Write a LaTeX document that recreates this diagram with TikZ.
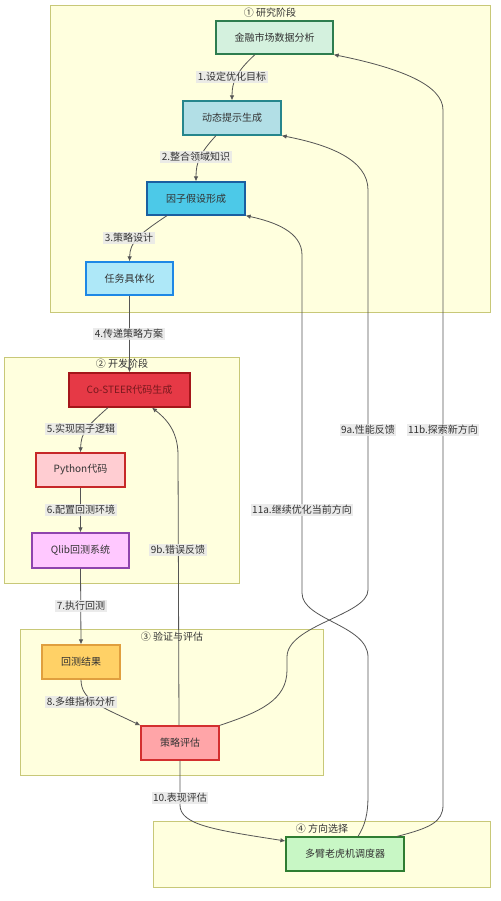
\documentclass[tikz,border=0pt]{standalone}
\usepackage{fontspec}
\setmainfont{Noto Sans CJK SC}
\usetikzlibrary{arrows.meta}
\definecolor{clfill}{HTML}{FFFFDE}
\definecolor{cldraw}{HTML}{C8C878}
\definecolor{edgec}{HTML}{555555}
\definecolor{txt}{HTML}{333333}
\definecolor{lblbg}{HTML}{E8E8E8}
\tikzset{
  cluster/.style={fill=clfill, draw=cldraw, line width=0.8pt},
  ctitle/.style={font=\fontsize{10}{12}\selectfont, text=txt, inner sep=1pt},
  box/.style={draw, line width=1.2pt, inner sep=0pt, text=txt, font=\fontsize{10}{12}\selectfont},
  edge/.style={draw=edgec, line width=0.8pt, -{Latex[length=5pt,width=4.5pt]}},
  elabel/.style={fill=lblbg, fill opacity=0.85, text opacity=1, text=txt, inner sep=1.5pt, font=\fontsize{10}{12}\selectfont}
}
\begin{document}
\begin{tikzpicture}[x=1pt,y=-1pt]
\useasboundingbox (0,0) rectangle (500,901);
\fill[white] (0,0) rectangle (500,901);
% clusters
\draw[cluster] (50,5) rectangle (490,312);
\draw[cluster] (4,357) rectangle (239,583);
\draw[cluster] (20,629) rectangle (323,775);
\draw[cluster] (153,821) rectangle (490,887);
\node[ctitle] (t1) at (270,13) {① 研究阶段};
\node[ctitle] (t2) at (122,364) {② 开发阶段};
\node[ctitle] (t3) at (172,637) {③ 验证与评估};
\node[ctitle] (t4) at (322,829) {④ 方向选择};
% nodes
\node[box, fill={rgb,255:red,212;green,241;blue,222}, draw={rgb,255:red,46;green,125;blue,79}, minimum width=117pt, minimum height=33pt] (n1) at (274.5,37.5) {金融市场数据分析};
\node[box, fill={rgb,255:red,178;green,223;blue,230}, draw={rgb,255:red,38;green,134;blue,140}, minimum width=98pt, minimum height=34pt] (n2) at (232,118) {动态提示生成};
\node[box, fill={rgb,255:red,76;green,201;blue,232}, draw={rgb,255:red,26;green,95;blue,160}, minimum width=98pt, minimum height=33pt] (n3) at (196,198.5) {因子假设形成};
\node[box, fill={rgb,255:red,174;green,232;blue,248}, draw={rgb,255:red,30;green,136;blue,229}, minimum width=87pt, minimum height=33pt] (n4) at (129.5,278.5) {任务具体化};
\node[box, fill={rgb,255:red,230;green,57;blue,70}, draw={rgb,255:red,164;green,22;blue,26}, text={rgb,255:red,120;green,25;blue,30}, minimum width=121pt, minimum height=34pt] (n5) at (129.5,390) {Co-STEER代码生成};
\node[box, fill={rgb,255:red,255;green,205;blue,210}, draw={rgb,255:red,198;green,40;blue,40}, minimum width=89pt, minimum height=34pt] (n6) at (80.5,470) {Python代码};
\node[box, fill={rgb,255:red,255;green,200;blue,255}, draw={rgb,255:red,142;green,68;blue,173}, minimum width=97pt, minimum height=35pt] (n7) at (80.5,550.5) {Qlib回测系统};
\node[box, fill={rgb,255:red,255;green,209;blue,102}, draw={rgb,255:red,224;green,159;blue,62}, minimum width=78pt, minimum height=34pt] (n8) at (81,662) {回测结果};
\node[box, fill={rgb,255:red,255;green,165;blue,168}, draw={rgb,255:red,211;green,47;blue,47}, minimum width=78pt, minimum height=34pt] (n9) at (180,743) {策略评估};
\node[box, fill={rgb,255:red,200;green,247;blue,197}, draw={rgb,255:red,46;green,125;blue,50}, minimum width=118pt, minimum height=34pt] (n10) at (345,854) {多臂老虎机调度器};
% edges
\draw[edge] ([xshift=-19.5pt]n1.south) .. controls (236,72) and (232,82) .. (n2.north);
\draw[edge] ([xshift=-16pt]n2.south) .. controls (200,153) and (196,162) .. (n3.north);
\draw[edge] ([xshift=-29pt]n3.south) .. controls (138,235) and (130,242) .. (n4.north);
\draw[edge] (n4.south) -- (n5.north);
\draw[edge] ([xshift=-21.5pt]n5.south) .. controls (86,427) and (81,433) .. (n6.north);
\draw[edge] (n6.south) -- (n7.north);
\draw[edge] (n7.south) -- (n8.north);
\draw[edge] (n8.south) .. controls (81,700) and (100,706) .. (n9.north west);
\draw[edge] ([xshift=-1pt]n9.north) -- (178,455) .. controls (178,430) and (165,418) .. ([xshift=22.5pt]n5.south);
\draw[edge] (n9.north east) .. controls (260,712) and (287,700) .. (287,670) -- (287,657) .. controls (287,625) and (368,615) .. (368,590) -- (368,190) .. controls (368,160) and (330,145) .. (n2.south east);
\draw[edge] ([xshift=13pt]n10.north) .. controls (365,825) and (368,815) .. (368,795) -- (368,657) .. controls (368,625) and (302,620) .. (302,593) -- (302,255) .. controls (302,232) and (275,222) .. (n3.south east);
\draw[edge] ([xshift=52pt]n10.north) .. controls (430,828) and (443,822) .. (443,805) -- (443,110) .. controls (443,85) and (400,68) .. (n1.south east);
\draw[edge] (n9.south) -- (180,805) .. controls (180,825) and (215,830) .. ([yshift=13pt]n10.west);
% edge labels
\node[elabel] (l1) at (232,77) {1.设定优化目标};
\node[elabel] (l2) at (196,157) {2.整合领域知识};
\node[elabel] (l3) at (129,238) {3.策略设计};
\node[elabel] (l4) at (129,334) {4.传递策略方案};
\node[elabel] (l5) at (81,429) {5.实现因子逻辑};
\node[elabel] (l6) at (81,510) {6.配置回测环境};
\node[elabel] (l7) at (81,606) {7.执行回测};
\node[elabel] (l8) at (81,702) {8.多维指标分析};
\node[elabel] (l9b) at (178,550) {9b.错误反馈};
\node[elabel] (l9a) at (368,430) {9a.性能反馈};
\node[elabel] (l11b) at (443,430) {11b.探索新方向};
\node[elabel] (l11a) at (302,510) {11a.继续优化当前方向};
\node[elabel] (l10) at (180,798) {10.表现评估};
\end{tikzpicture}
\end{document}
